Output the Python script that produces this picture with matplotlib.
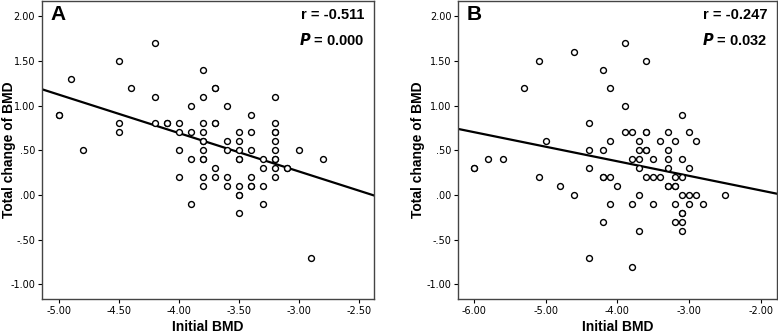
import matplotlib
matplotlib.use("Agg")
import matplotlib.pyplot as plt
import numpy as np

# panel A: initial BMD vs total change of BMD
a_x = [-5.0, -5.0, -4.9, -4.8, -4.5, -4.5, -4.5, -4.4, -4.2, -4.2, -4.2,
       -4.1, -4.1, -4.0, -4.0, -4.0, -4.0, -3.9, -3.9, -3.9, -3.9,
       -3.8, -3.8, -3.8, -3.8, -3.8, -3.8, -3.8, -3.8, -3.8, -3.8, -3.8,
       -3.7, -3.7, -3.7, -3.7, -3.7, -3.7, -3.6, -3.6, -3.6, -3.6, -3.6,
       -3.5, -3.5, -3.5, -3.5, -3.5, -3.5, -3.5, -3.5, -3.5,
       -3.4, -3.4, -3.4, -3.4, -3.4, -3.4, -3.3, -3.3, -3.3, -3.3,
       -3.2, -3.2, -3.2, -3.2, -3.2, -3.2, -3.2, -3.2, -3.2, -3.2,
       -3.1, -3.1, -3.0, -2.9, -2.8]
a_y = [0.9, 0.9, 1.3, 0.5, 1.5, 0.8, 0.7, 1.2, 1.7, 1.1, 0.8,
       0.8, 0.8, 0.8, 0.7, 0.5, 0.2, 1.0, 0.7, 0.4, -0.1,
       1.4, 1.1, 0.8, 0.7, 0.6, 0.6, 0.5, 0.4, 0.4, 0.2, 0.1,
       1.2, 0.8, 0.8, 0.3, 0.2, 1.2, 1.0, 0.6, 0.5, 0.2, 0.1,
       0.7, 0.6, 0.5, 0.4, 0.4, 0.1, 0.0, 0.0, -0.2,
       0.9, 0.7, 0.5, 0.2, 0.1, 0.1, 0.4, 0.3, 0.1, -0.1,
       1.1, 0.8, 0.7, 0.7, 0.6, 0.5, 0.4, 0.4, 0.3, 0.2,
       0.3, 0.3, 0.5, -0.7, 0.4]

# panel B
b_x = [-6.0, -6.0, -5.8, -5.6, -5.3, -5.1, -5.1, -5.0, -4.8, -4.6, -4.6,
       -4.4, -4.4, -4.4, -4.4, -4.2, -4.2, -4.2, -4.2, -4.2,
       -4.1, -4.1, -4.1, -4.1, -4.0, -3.9, -3.9, -3.9,
       -3.8, -3.8, -3.8, -3.8, -3.7, -3.7, -3.7, -3.7, -3.7, -3.7,
       -3.6, -3.6, -3.6, -3.6, -3.6, -3.6, -3.5, -3.5, -3.5, -3.4, -3.4,
       -3.3, -3.3, -3.3, -3.3, -3.3, -3.3, -3.2, -3.2, -3.2, -3.2, -3.2, -3.2,
       -3.1, -3.1, -3.1, -3.1, -3.1, -3.1, -3.1, -3.1,
       -3.0, -3.0, -3.0, -3.0, -2.9, -2.9, -2.8, -2.5]
b_y = [0.3, 0.3, 0.4, 0.4, 1.2, 1.5, 0.2, 0.6, 0.1, 1.6, 0.0,
       0.8, 0.5, 0.3, -0.7, 1.4, 0.5, 0.2, 0.2, -0.3,
       1.2, 0.6, 0.2, -0.1, 0.1, 1.7, 1.0, 0.7,
       0.7, 0.4, -0.1, -0.8, 0.6, 0.5, 0.4, 0.3, 0.0, -0.4,
       1.5, 0.7, 0.7, 0.5, 0.5, 0.2, 0.4, 0.2, -0.1, 0.6, 0.2,
       0.7, 0.5, 0.4, 0.3, 0.1, 0.1, 0.6, 0.2, 0.1, -0.1, -0.3, 0.1,
       0.9, 0.4, 0.2, 0.0, -0.2, -0.2, -0.3, -0.4,
       0.7, 0.3, 0.0, -0.1, 0.6, 0.0, -0.1, 0.0]

panels = [
    ("A", a_x, a_y, "r = -0.511", "= 0.000",
     (-5.14, -2.37), [-5.0, -4.5, -4.0, -3.5, -3.0, -2.5], -0.100),
    ("B", b_x, b_y, "r = -0.247", "= 0.032",
     (-6.22, -1.77), [-6.0, -5.0, -4.0, -3.0, -2.0], -0.125),
]
y_ticks = [-1.0, -0.5, 0.0, 0.5, 1.0, 1.5, 2.0]
y_labels = ["-1.00", "-.50", ".00", ".50", "1.00", "1.50", "2.00"]

tick_font = ["Liberation Sans Narrow", "DejaVu Sans"]
bold_font = ["Liberation Sans", "DejaVu Sans"]

fig = plt.figure(figsize=(7.78, 3.35), dpi=100)
rects = [[0.054, 0.107, 0.427, 0.890], [0.589, 0.107, 0.410, 0.890]]

for rect, (tag, xs, ys, rtxt, pval, xlim, xt, ylab_x) in zip(rects, panels):
    ax = fig.add_axes(rect)
    ax.scatter(xs, ys, s=18, facecolors="white", edgecolors="black",
               linewidths=1.0, zorder=3)
    k, b0 = np.polyfit(xs, ys, 1)
    lx = np.array(xlim)
    ax.plot(lx, k * lx + b0, color="black", lw=1.6, zorder=2)
    ax.set_xlim(*xlim)
    ax.set_ylim(-1.165, 2.17)
    ax.set_xticks(xt)
    ax.set_xticklabels(["%.2f" % v for v in xt], family=tick_font, fontsize=7)
    ax.set_yticks(y_ticks)
    ax.set_yticklabels(y_labels, family=tick_font, fontsize=7)
    ax.tick_params(length=3, width=0.8, pad=2)
    for sp in ax.spines.values():
        sp.set_linewidth(1.0)
        sp.set_color("#444444")
    ax.set_xlabel("Initial BMD", family=bold_font, fontweight="bold",
                  fontsize=10, va="center")
    ax.xaxis.set_label_coords(0.5, -0.092)
    ax.set_ylabel("Total change of BMD", family=bold_font, fontweight="bold",
                  fontsize=10, va="center")
    ax.yaxis.set_label_coords(ylab_x, 0.5)
    ax.text(0.025, 0.985, tag, transform=ax.transAxes, ha="left", va="top",
            family=bold_font, fontweight="bold", fontsize=15)
    ax.text(0.97, 0.975, rtxt, transform=ax.transAxes, ha="right", va="top",
            family=bold_font, fontweight="bold", fontsize=10.5)
    ax.text(0.97, 0.895, "$\\boldsymbol{P}$ " + pval, transform=ax.transAxes,
            ha="right", va="top", family=bold_font, fontweight="bold",
            fontsize=10.5)

fig.savefig("out.png", dpi=100)
